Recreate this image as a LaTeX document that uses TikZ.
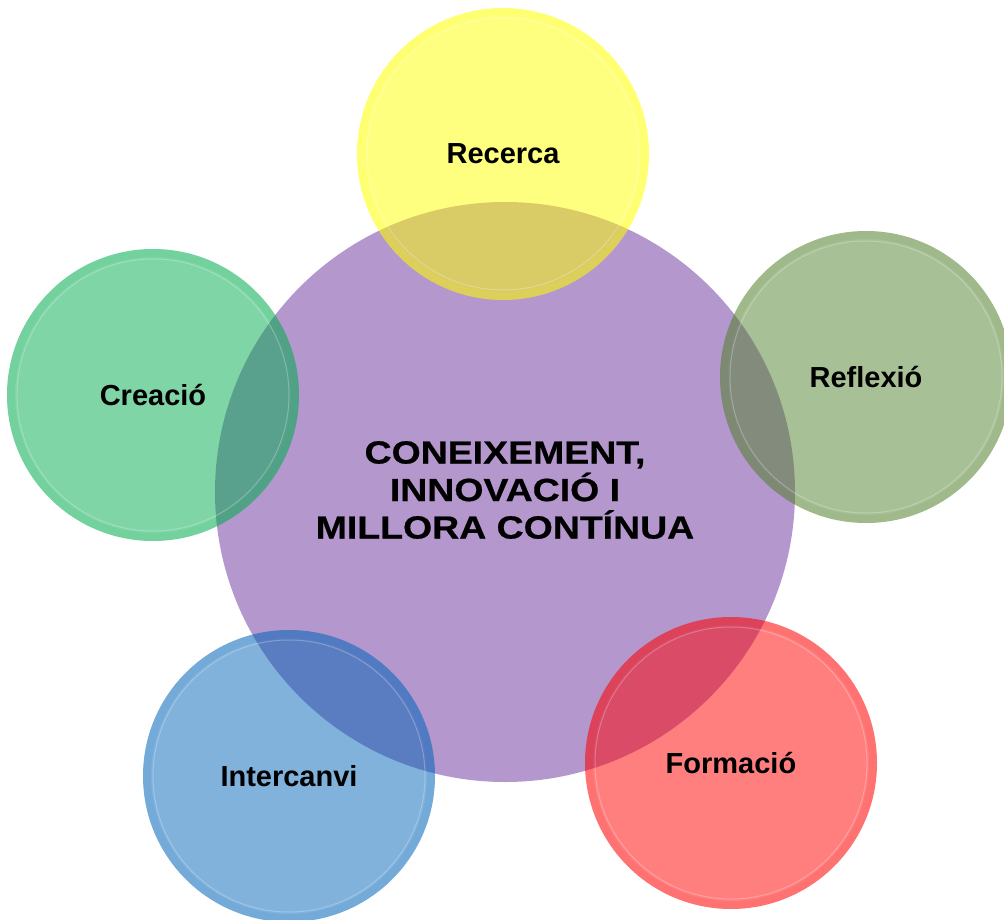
\documentclass[tikz,border=0pt]{standalone}
\usepackage{fontspec}
\setmainfont{Liberation Sans}
\newfontfamily\ampla[FakeStretch=1.17,BoldFeatures={FakeBold=0.6}]{Liberation Sans}
\definecolor{lila}{RGB}{180,151,205}
\definecolor{groc}{RGB}{255,255,0}
\definecolor{verd}{RGB}{0,171,77}
\definecolor{oliva}{RGB}{81,129,45}
\definecolor{vermell}{RGB}{255,0,0}
\definecolor{blau}{RGB}{1,101,185}
\tikzset{
  etiqueta/.style={font=\bfseries\fontsize{29}{36.5}\selectfont,text=black,align=center},
  titol/.style={font=\ampla\bfseries\fontsize{32}{37.5}\selectfont,text=black,align=center},
  bombolla/.style={fill opacity=.5},
  anella/.style={opacity=.1,line width=8},
  reflex/.style={white,opacity=.25,line width=1}
}
\begin{document}
\begin{tikzpicture}[x=1pt,y=-1pt]
\useasboundingbox (0,0) rectangle (1004,920);
% cercle central
\fill[lila] (505,492) circle (290);
\node[titol] (centre) at (505,490) {CONEIXEMENT,\\INNOVACIÓ I\\MILLORA CONTÍNUA};
% cercles del voltant
\foreach \x/\y/\c/\n/\t in {503/154/groc/recerca/Recerca,
  866/377/oliva/reflexio/Reflexió,
  731/763/vermell/formacio/Formació,
  289/776/blau/intercanvi/Intercanvi,
  153/395/verd/creacio/Creació}{
  \fill[\c,bombolla] (\x,\y) circle (146);
  \draw[\c,anella] (\x,\y) circle (142);
  \draw[reflex] (\x,\y) circle (136);
  \node[etiqueta] (\n) at (\x,\y) {\t};
}
\end{tikzpicture}
\end{document}
